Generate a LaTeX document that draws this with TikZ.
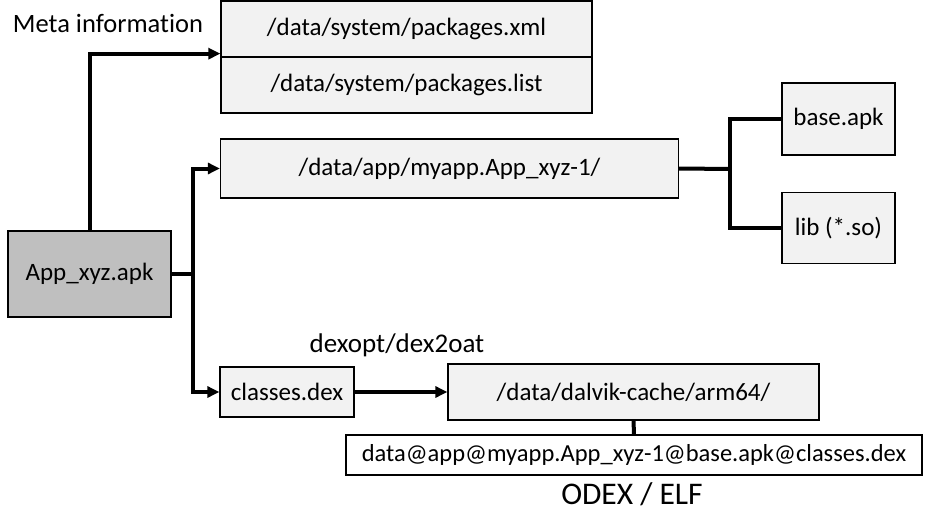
\documentclass[tikz,border=0pt]{standalone}
\usepackage{fontspec}
\setmainfont[Ligatures=NoCommon]{Carlito}
\usetikzlibrary{arrows.meta}
\definecolor{boxfill}{HTML}{F2F2F2}
\definecolor{appfill}{HTML}{BFBFBF}
\begin{document}
\begin{tikzpicture}[x=1pt,y=-1pt,
  box/.style={draw=black,line width=1.3pt,fill=boxfill,rectangle,inner sep=0pt,font=\fontsize{25}{29}\selectfont},
  conn/.style={line width=4pt},
  arr/.style={line width=4pt,-{Triangle[length=12pt,width=11pt]}},
  lbl/.style={inner sep=0pt}]
\useasboundingbox (0,0) rectangle (925,516);
\node[box,minimum width=371pt,minimum height=56pt] (pk1) at (406.5,29) {/data/system/packages.xml};
\node[box,minimum width=371pt,minimum height=56pt] (pk2) at (406.5,85) {/data/system/packages.list};
\node[box,minimum width=458pt,minimum height=59pt] (myapp) at (449.5,168.5) {/data/app/myapp.App\_xyz-1/};
\node[box,minimum width=113pt,minimum height=72pt] (base) at (838.5,119) {base.apk};
\node[box,minimum width=113pt,minimum height=71pt] (lib) at (838.5,228) {lib (*.so)};
\node[box,fill=appfill,minimum width=163pt,minimum height=86pt] (app) at (89.5,274) {App\_xyz.apk};
\node[box,minimum width=134pt,minimum height=50pt] (classes) at (287,392) {classes.dex};
\node[box,minimum width=371pt,minimum height=56pt] (dalvik) at (633.5,392) {/data/dalvik-cache/arm64/};
\node[box,fill=white,minimum width=576pt,minimum height=40pt,font=\fontsize{24.5}{28}\selectfont] (odex) at (634,455) {data@app@myapp.App\_xyz-1@base.apk@classes.dex};
\node[lbl,font=\fontsize{26.5}{30}\selectfont] (meta) at (108,23) {Meta information};
\node[lbl,font=\fontsize{27}{30}\selectfont] (dexopt) at (397,345) {dexopt/dex2oat};
\node[lbl,font=\fontsize{31.5}{35}\selectfont] (elf) at (632,494) {ODEX / ELF};
\coordinate (bus) at (193,274);
\coordinate (rb) at (730,169);
\draw[arr] (app.north) |- ([yshift=4pt]pk1.south west);
\draw[conn] (app.east) -- (bus);
\draw[arr] (bus) |- (myapp.west);
\draw[arr] (bus) |- (classes.west);
\draw[conn] (myapp.east) -- (rb);
\draw[conn] (base.west) -- (base.west -| rb) -- (lib.west -| rb) -- (lib.west);
\draw[arr] (classes.east) -- (dalvik.west);
\draw[conn] (dalvik.south) -- (odex.north);
\end{tikzpicture}
\end{document}
